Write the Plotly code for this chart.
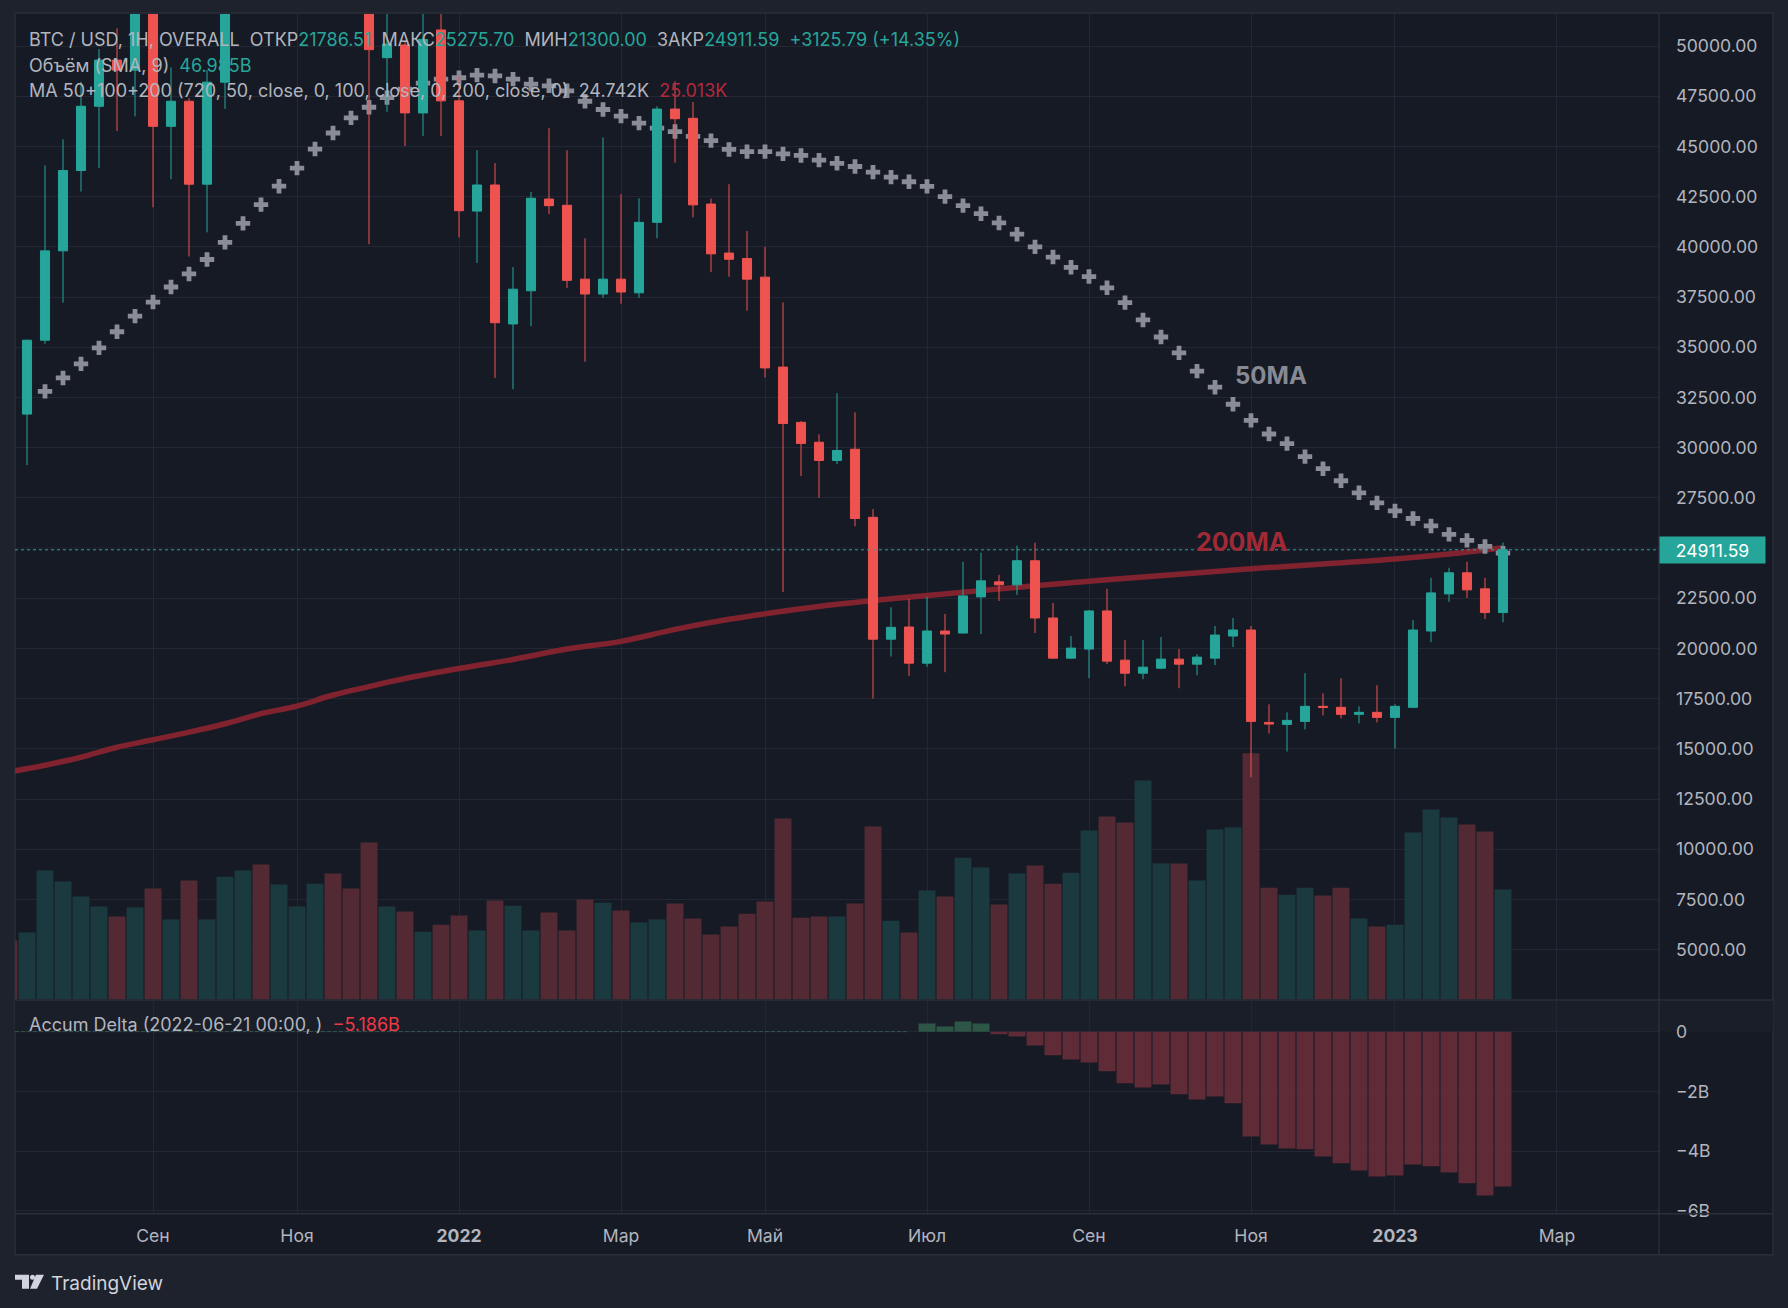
import pandas as pd
import plotly.graph_objects as go

W, H = 1788, 1308

# ---------------- data (weekly bars, first is 2021-07-12) ----------------
dates = pd.date_range("2021-07-12", periods=84, freq="7D")

opens = [34130, 31670, 35350, 39800, 43800, 47000, 49300, 48800, 51750, 46000,
         47250, 43120, 48200, 54950, 61500, 60900, 61300, 63300, 65500, 59700,
         57200, 49420, 50050, 46670, 50800, 47270, 41780, 43080, 36160, 37810,
         42380, 42070, 38390, 37650, 38390, 37710, 41220, 46860, 46400, 42130,
         39690, 39420, 38490, 34010, 31260, 30270, 29360, 29920, 26530, 20460,
         21067, 19267, 20867, 20767, 22567, 23317, 23167, 24367, 21517, 19517,
         19967, 21867, 19417, 18767, 19017, 19467, 19217, 19517, 20617, 20917,
         16317, 16217, 16367, 17117, 17067, 16717, 16817, 16567, 17067, 20867,
         22717, 23767, 22967, 21786.51]
highs = [34500, 35380, 44050, 45350, 48220, 49850, 50880, 52950, 52900, 48930,
         47400, 48800, 56500, 62900, 67000, 63700, 64300, 69000, 66300, 59900,
         59200, 51950, 50200, 51900, 52000, 48470, 44810, 44170, 38990, 42730,
         45910, 44810, 40430, 45450, 42620, 42420, 47000, 48240, 47210, 42400,
         43120, 40790, 40000, 37230, 31320, 30660, 32710, 31760, 26940, 22050,
         22467, 22567, 21717, 24317, 24767, 23667, 25117, 25267, 22267, 20617,
         21917, 22967, 20417, 20417, 20567, 19967, 19717, 21117, 21517, 21117,
         17217, 16817, 18767, 17767, 18517, 17117, 18167, 17217, 21417, 23517,
         24017, 24317, 23517, 25275.70]
lows = [31500, 29130, 35170, 37220, 42750, 43920, 45770, 46500, 41970, 43370,
        39520, 40720, 46870, 53900, 59700, 58000, 59500, 62300, 55600, 55300,
        40130, 46720, 45020, 45520, 45520, 40470, 39200, 33470, 32910, 36050,
        41630, 37950, 34280, 37460, 37170, 37460, 40430, 44190, 41470, 38740,
        38510, 36820, 33490, 22810, 28580, 27500, 29180, 26080, 17500, 19600,
        18633, 19083, 18817, 20750, 20717, 22367, 22667, 20767, 19500, 19480,
        18517, 19217, 18117, 18467, 18967, 18017, 18667, 19167, 20067, 13583,
        15767, 14867, 15967, 16667, 16517, 16267, 16317, 15017, 17050, 20317,
        22317, 22517, 21467, 21300.00]
closes = [31670, 35350, 39800, 43800, 47000, 49300, 48800, 51750, 46000, 47250,
          43120, 48200, 54950, 61500, 60900, 61300, 63300, 65500, 59700, 57200,
          49820, 50100, 46670, 50330, 47270, 41800, 43080, 36220, 37890, 42420,
          42050, 38330, 37650, 38390, 37750, 41220, 46860, 46380, 42090, 39650,
          39380, 38390, 33970, 31200, 30210, 29360, 29860, 26470, 20460, 21050,
          19267, 20867, 20717, 22617, 23367, 23167, 24367, 21517, 19517, 20017,
          21867, 19367, 18767, 19067, 19467, 19217, 19567, 20667, 20917, 16367,
          16233, 16417, 17117, 17067, 16717, 16817, 16567, 17117, 20917, 22767,
          23767, 22917, 21785.80, 24911.59]

# volume, billions
volume = [25.2, 28.6, 55.1, 50.4, 44.0, 39.7, 35.5, 39.3, 47.4, 34.2,
          50.8, 34.2, 52.5, 55.1, 57.7, 49.1, 39.7, 49.5, 53.8, 47.4,
          67.1, 39.7, 37.6, 29.0, 32.0, 35.9, 29.5, 42.3, 40.1, 29.5,
          37.2, 29.5, 42.7, 41.4, 38.0, 32.9, 34.2, 41.0, 34.6, 27.8,
          31.2, 36.7, 41.9, 77.3, 35.0, 35.5, 35.5, 41.0, 73.9, 33.7,
          28.6, 46.6, 44.0, 60.6, 56.4, 40.6, 53.8, 57.2, 49.5, 54.2,
          72.2, 78.2, 75.6, 93.5, 58.1, 58.1, 50.8, 72.6, 73.5, 105.2,
          47.8, 44.8, 47.8, 44.4, 47.8, 34.6, 31.2, 32.0, 71.3, 81.2,
          77.7, 74.7, 71.8, 46.985]

# accumulated delta, billions (starts 2022-06-21)
delta = [0.0] * 51 + [0.27, 0.17, 0.34, 0.27, -0.09, -0.16, -0.46, -0.79, -0.93, -1.03,
                      -1.33, -1.73, -1.87, -1.77, -2.10, -2.27, -2.17, -2.40, -3.51, -3.78,
                      -3.91, -3.94, -4.18, -4.41, -4.65, -4.85, -4.82, -4.45, -4.51, -4.72,
                      -5.08, -5.49, -5.186]

ma50 = [None, None,
        32800, 33470, 34170, 34970, 35770, 36550, 37250, 38000, 38650, 39370,
        40220, 41170, 42100, 43020, 43920, 44870, 45670, 46420, 46950, 47430,
        47850, 48150, 48350, 48420, 48550, 48510, 48350, 48100, 48020, 47770,
        47250, 46840, 46510, 46160, 45910, 45740, 45500, 45290, 44850, 44740,
        44740, 44630, 44550, 44320, 44160, 44000, 43720, 43470, 43240, 43010,
        42500, 42050, 41650, 41190, 40630, 40000, 39490, 38980, 38520, 37960,
        37220, 36360, 35510, 34720, 33810, 33010, 32160, 31360, 30680, 30200,
        29550, 28950, 28350, 27750, 27250, 26850, 26470, 26100, 25680, 25380,
        25080, 24742]

ma200_bar = [-1, 1, 3, 5, 7, 9, 11, 13, 15, 17, 19, 21, 24, 27, 30, 33, 36, 39,
             42, 45, 48, 52, 56, 60, 64, 68, 72, 76, 79, 82]
ma200_val = [13850, 14180, 14580, 15080, 15450, 15830, 16250, 16750, 17130, 17680,
             18100, 18500, 19000, 19450, 19970, 20350, 20950, 21450, 21850, 22200,
             22470, 22800, 23120, 23420, 23700, 23970, 24200, 24450, 24700, 25013]

# 25000.00 is hidden under the last-price label in the reference
price_ticks = [p for p in range(5000, 50001, 2500) if p != 25000]
hidden_grid_price = 25000
delta_ticks = [0, -2, -4, -6]
delta_tick_text = ["0", "\u22122B", "\u22124B", "\u22126B"]
month_tick_dates = ["2021-09-06", "2021-11-01", "2022-01-03", "2022-03-07", "2022-05-02",
                    "2022-07-04", "2022-09-05", "2022-11-07", "2023-01-02", "2023-03-06"]
month_tick_text = ["Сен", "Ноя", "<b>2022</b>", "Мар", "Май", "Июл", "Сен", "Ноя",
                   "<b>2023</b>", "Мар"]

# ---------------- styling ----------------
UP, DOWN = "#26a69a", "#ef5350"
VOL_UP, VOL_DOWN = "#1b3a40", "#532a33"
D_UP, D_DOWN = "#2d5646", "#5e2b37"
TXT = "#b2b5be"
GRID = "#232733"
SEP = "#2a2e39"
BG_OUT = "#1e222d"
BG_IN = "#161a25"
FONT = "Inter"
VSCALE = 1.006   # small vertical stretch so the panes land where the reference has them


def px_x(p):
    return p / W


def px_y(p):
    return 1 - p * VSCALE / H


ma200_dates = [dates[i + 1] for i in ma200_bar]
vol_colors = [VOL_UP if c >= o else VOL_DOWN for o, c in zip(opens, closes)]
delta_colors = [D_UP if d > 0 else (D_DOWN if d < 0 else "rgba(0,0,0,0)") for d in delta]
zero_dates = [d for d, v in zip(dates, delta) if v == 0]
zero_vals = [v for v in delta if v == 0]

fig = go.Figure()
fig.add_trace(go.Bar(x=dates, y=volume, marker=dict(color=vol_colors, line=dict(width=0)),
                     xaxis="x", yaxis="y2", showlegend=False, hoverinfo="skip"))
fig.add_trace(go.Scatter(x=ma200_dates, y=ma200_val, mode="lines",
                         line=dict(color="#80232f", width=5.5, shape="spline"),
                         xaxis="x", yaxis="y", showlegend=False, hoverinfo="skip"))
fig.add_trace(go.Scatter(x=dates, y=ma50, mode="markers",
                         marker=dict(symbol="cross", size=12, color="#8a8d97", line=dict(width=0)),
                         xaxis="x", yaxis="y", showlegend=False, hoverinfo="skip"))
fig.add_trace(go.Candlestick(x=dates, open=opens, high=highs, low=lows, close=closes,
                             increasing=dict(line=dict(color=UP, width=1), fillcolor=UP),
                             decreasing=dict(line=dict(color=DOWN, width=1), fillcolor=DOWN),
                             whiskerwidth=0, xaxis="x", yaxis="y4", showlegend=False,
                             hoverinfo="skip"))
fig.add_trace(go.Bar(x=dates, y=delta, marker=dict(color=delta_colors, line=dict(width=0)),
                     xaxis="x", yaxis="y3", showlegend=False, hoverinfo="skip"))
fig.add_trace(go.Scatter(x=zero_dates, y=zero_vals, mode="lines",
                         line=dict(color="#34564d", width=1, dash="4px,2px"),
                         xaxis="x", yaxis="y3", showlegend=False, hoverinfo="skip"))

# pixel geometry
main_top, main_bot = 14, 999
delta_top, delta_bot = 1000, 1213
plot_l, plot_r = 15, 1659
price_top = 50000 + (46 - main_top) * 2500 / 50.17
price_bot = 50000 - (main_bot - 46) * 2500 / 50.17
vol_max = (main_bot - main_top) * 46.985 / 110.0
d_per_px = 2.0 / 59.7
delta_hi = (1031 - delta_top) * d_per_px
delta_lo = -(delta_bot - 1031) * d_per_px

x_left = dates[1] - pd.Timedelta(days=4.67)
x_right = dates[1] + pd.Timedelta(days=634.67)

axis_font = dict(family=FONT, size=17.6, color=TXT)

fig.update_layout(
    width=W, height=H, autosize=False,
    margin=dict(l=0, r=0, t=0, b=0),
    paper_bgcolor=BG_OUT, plot_bgcolor="rgba(0,0,0,0)",
    bargap=0.06, boxgap=0.28,
    font=dict(family=FONT, color=TXT),
    xaxis=dict(domain=[px_x(plot_l), px_x(plot_r)], anchor="y3", type="date",
               range=[x_left, x_right], tickvals=month_tick_dates, ticktext=month_tick_text,
               showgrid=True, gridcolor=GRID, gridwidth=1, zeroline=False, showline=False,
               ticks="", ticklabelstandoff=10, tickfont=axis_font,
               rangeslider=dict(visible=False), fixedrange=True),
    yaxis=dict(domain=[px_y(main_bot), px_y(main_top)], anchor="x", side="right",
               range=[price_bot, price_top], tickvals=price_ticks, tickformat=".2f",
               showgrid=True, gridcolor=GRID, gridwidth=1, zeroline=False, showline=False,
               ticks="", ticklabelstandoff=16, tickfont=axis_font),
    yaxis2=dict(overlaying="y", anchor="x", range=[0, vol_max], visible=False),
    yaxis4=dict(overlaying="y", anchor="x", range=[price_bot, price_top], visible=False),
    yaxis3=dict(domain=[px_y(delta_bot), px_y(delta_top)], anchor="x", side="right",
                range=[delta_lo, delta_hi], tickvals=delta_ticks, ticktext=delta_tick_text,
                showgrid=True, gridcolor=GRID, gridwidth=1, zeroline=False, showline=False,
                ticks="", ticklabelstandoff=16, tickfont=axis_font),
)

shapes = [
    # chart body
    dict(type="rect", xref="paper", yref="paper", x0=px_x(15), x1=px_x(1773),
         y0=px_y(1254), y1=px_y(13), fillcolor=BG_IN, line=dict(color=SEP, width=1.5),
         layer="below"),
    # lighter band at the top of the delta pane
    dict(type="rect", xref="paper", yref="paper", x0=px_x(15), x1=px_x(1773),
         y0=px_y(1031), y1=px_y(1000), fillcolor="#1a1e29", line=dict(width=0),
         layer="below"),
    # gridline whose label is covered by the price label
    dict(type="line", xref="paper", yref="y", x0=px_x(plot_l), x1=px_x(plot_r),
         y0=hidden_grid_price, y1=hidden_grid_price, line=dict(color=GRID, width=1),
         layer="below"),
    # separators
    dict(type="line", xref="paper", yref="paper", x0=px_x(1659), x1=px_x(1659),
         y0=px_y(1254), y1=px_y(13), line=dict(color=SEP, width=1.5), layer="above"),
    dict(type="line", xref="paper", yref="paper", x0=px_x(15), x1=px_x(1773),
         y0=px_y(999.5), y1=px_y(999.5), line=dict(color=SEP, width=1.5), layer="above"),
    dict(type="line", xref="paper", yref="paper", x0=px_x(15), x1=px_x(1773),
         y0=px_y(1213), y1=px_y(1213), line=dict(color=SEP, width=1.5), layer="above"),
    # last price dotted line
    dict(type="line", xref="paper", yref="y", x0=px_x(plot_l), x1=px_x(plot_r),
         y0=closes[-1], y1=closes[-1], line=dict(color=UP, width=1, dash="dot"),
         layer="above"),
    # TradingView logo
    dict(type="path", xref="paper", yref="paper",
         path="M {} {} L {} {} L {} {} L {} {} L {} {} L {} {} Z".format(
             px_x(15), px_y(1274), px_x(29), px_y(1274), px_x(29), px_y(1288),
             px_x(22), px_y(1288), px_x(22), px_y(1279), px_x(15), px_y(1279)),
         fillcolor="#d1d4dc", line=dict(width=0)),
    dict(type="circle", xref="paper", yref="paper", x0=px_x(30), x1=px_x(35),
         y0=px_y(1279), y1=px_y(1274), fillcolor="#d1d4dc", line=dict(width=0)),
    dict(type="path", xref="paper", yref="paper",
         path="M {} {} L {} {} L {} {} L {} {} Z".format(
             px_x(36), px_y(1274), px_x(44), px_y(1274), px_x(37), px_y(1288),
             px_x(30), px_y(1288)),
         fillcolor="#d1d4dc", line=dict(width=0)),
]
fig.update_layout(shapes=shapes)

sp = "\u00a0"
chg = closes[-1] - closes[-2]
pct = chg / closes[-2] * 100


def teal(t):
    return f"<span style='color:{UP}'>{t}</span>"


line1 = ("BTC / USD, 1H, OVERALL" + sp * 2 +
         "ОТКР" + teal(f"{opens[-1]:.2f}") + sp * 2 +
         "МАКС" + teal(f"{highs[-1]:.2f}") + sp * 2 +
         "МИН" + teal(f"{lows[-1]:.2f}") + sp * 2 +
         "ЗАКР" + teal(f"{closes[-1]:.2f}") + sp * 2 +
         teal(f"+{chg:.2f} (+{pct:.2f}%)"))
line2 = "Объём (SMA, 9)" + sp * 2 + teal(f"{volume[-1]:.3f}B")
line3 = ("MA 50+100+200 (720, 50, close, 0, 100, close, 0, 200, close, 0)" + sp * 2 +
         f"{ma50[-1] / 1000:.3f}K" + sp * 2 +
         f"<span style='color:#b3283a'>{ma200_val[-1] / 1000:.3f}K</span>")
line4 = ("Accum Delta (2022-06-21 00:00, )" + sp * 2 +
         f"<span style='color:#f23645'>\u2212{abs(delta[-1]):.3f}B</span>")

leg_font = dict(family=FONT, size=18, color=TXT)
annotations = [
    dict(text=line1, x=px_x(27), y=px_y(39), xref="paper", yref="paper",
         xanchor="left", yanchor="middle", showarrow=False, font=leg_font),
    dict(text=line2, x=px_x(27), y=px_y(65), xref="paper", yref="paper",
         xanchor="left", yanchor="middle", showarrow=False, font=leg_font),
    dict(text=line3, x=px_x(27), y=px_y(90.5), xref="paper", yref="paper",
         xanchor="left", yanchor="middle", showarrow=False, font=leg_font),
    dict(text=line4, x=px_x(27), y=px_y(1024), xref="paper", yref="paper",
         xanchor="left", yanchor="middle", showarrow=False, font=leg_font),
    dict(text="<b>50MA</b>", x=px_x(1271), y=px_y(375), xref="paper", yref="paper",
         xanchor="center", yanchor="middle", showarrow=False,
         font=dict(family=FONT, size=24, color="#878a94")),
    dict(text="<b>200MA</b>", x=px_x(1242), y=px_y(542), xref="paper", yref="paper",
         xanchor="center", yanchor="middle", showarrow=False,
         font=dict(family=FONT, size=25, color="#9f2a36")),
    dict(text=f"{closes[-1]:.2f}", x=px_x(1659), y=closes[-1], xref="paper", yref="y",
         xanchor="left", yanchor="middle", showarrow=False, bgcolor=UP,
         width=105, height=26, align="center", borderpad=0,
         font=dict(family=FONT, size=17.6, color="#ffffff")),
    dict(text="TradingView", x=px_x(49), y=px_y(1283), xref="paper", yref="paper",
         xanchor="left", yanchor="middle", showarrow=False,
         font=dict(family=FONT, size=19, color="#d1d4dc")),
]
fig.update_layout(annotations=annotations)

post = ("var s=document.createElement('style');"
        "s.innerHTML='html,body{margin:0;padding:0;width:1788px;height:1308px;overflow:hidden;}"
        "body>div{height:1308px;overflow:hidden;line-height:0;}';"
        "document.head.appendChild(s);")

fig.write_html("out.html", include_plotlyjs=True,
               config={"displayModeBar": False},
               post_script=post)
